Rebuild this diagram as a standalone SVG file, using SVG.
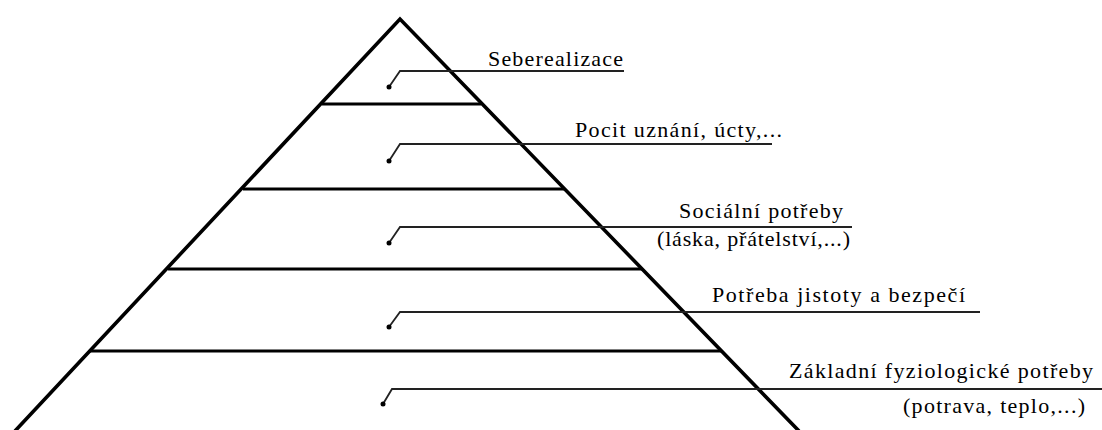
<svg xmlns="http://www.w3.org/2000/svg" width="1102" height="430" viewBox="0 0 1102 430">
<style>
.py{stroke:#000;stroke-width:3.6;fill:none;stroke-linecap:butt}
.hz{stroke:#000;stroke-width:3;fill:none}
.ld{stroke:#222;stroke-width:1.8;fill:none}
.dot{fill:#000}
.t{font-family:"Liberation Serif","Times New Roman",serif;font-size:22px;fill:#000}
</style>
<rect width="1102" height="430" fill="#fff"/>
<g id="pyramid">
<path class="py" d="M15,431 L400,19 L799,431"/>
<line class="hz" x1="322" y1="104" x2="481" y2="104"/>
<line class="hz" x1="243" y1="189" x2="564" y2="189"/>
<line class="hz" x1="168" y1="269" x2="642" y2="269"/>
<line class="hz" x1="90" y1="351" x2="722" y2="351"/>
</g>
<g id="connectors">
<path class="ld" d="M389,87 L400,71 H624"/>
<path class="ld" d="M389,161 L400,144 H772"/>
<path class="ld" d="M389,243 L400,227 H852"/>
<path class="ld" d="M389,327 L400,312 H980"/>
<path class="ld" d="M383,404 L392,389 H1102"/>
<circle class="dot" cx="389" cy="87" r="2.5"/>
<circle class="dot" cx="389" cy="161" r="2.5"/>
<circle class="dot" cx="389" cy="243" r="2.5"/>
<circle class="dot" cx="389" cy="327" r="2.5"/>
<circle class="dot" cx="383" cy="404" r="2.5"/>
</g>
<g id="level5">
<text class="t" x="488" y="66" textLength="135" lengthAdjust="spacing">Seberealizace</text>
</g>
<g id="level4">
<text class="t" x="575" y="137" textLength="207" lengthAdjust="spacing">Pocit uznání, úcty,...</text>
</g>
<g id="level3">
<text class="t" x="679" y="218" textLength="164" lengthAdjust="spacing">Sociální potřeby</text>
<text class="t" x="657" y="246" textLength="193" lengthAdjust="spacing">(láska, přátelství,...)</text>
</g>
<g id="level2">
<text class="t" x="712" y="302" textLength="253" lengthAdjust="spacing">Potřeba jistoty a bezpečí</text>
</g>
<g id="level1">
<text class="t" x="789" y="378" textLength="304" lengthAdjust="spacing">Základní fyziologické potřeby</text>
<text class="t" x="903" y="413" textLength="182" lengthAdjust="spacing">(potrava, teplo,...)</text>
</g>
</svg>
